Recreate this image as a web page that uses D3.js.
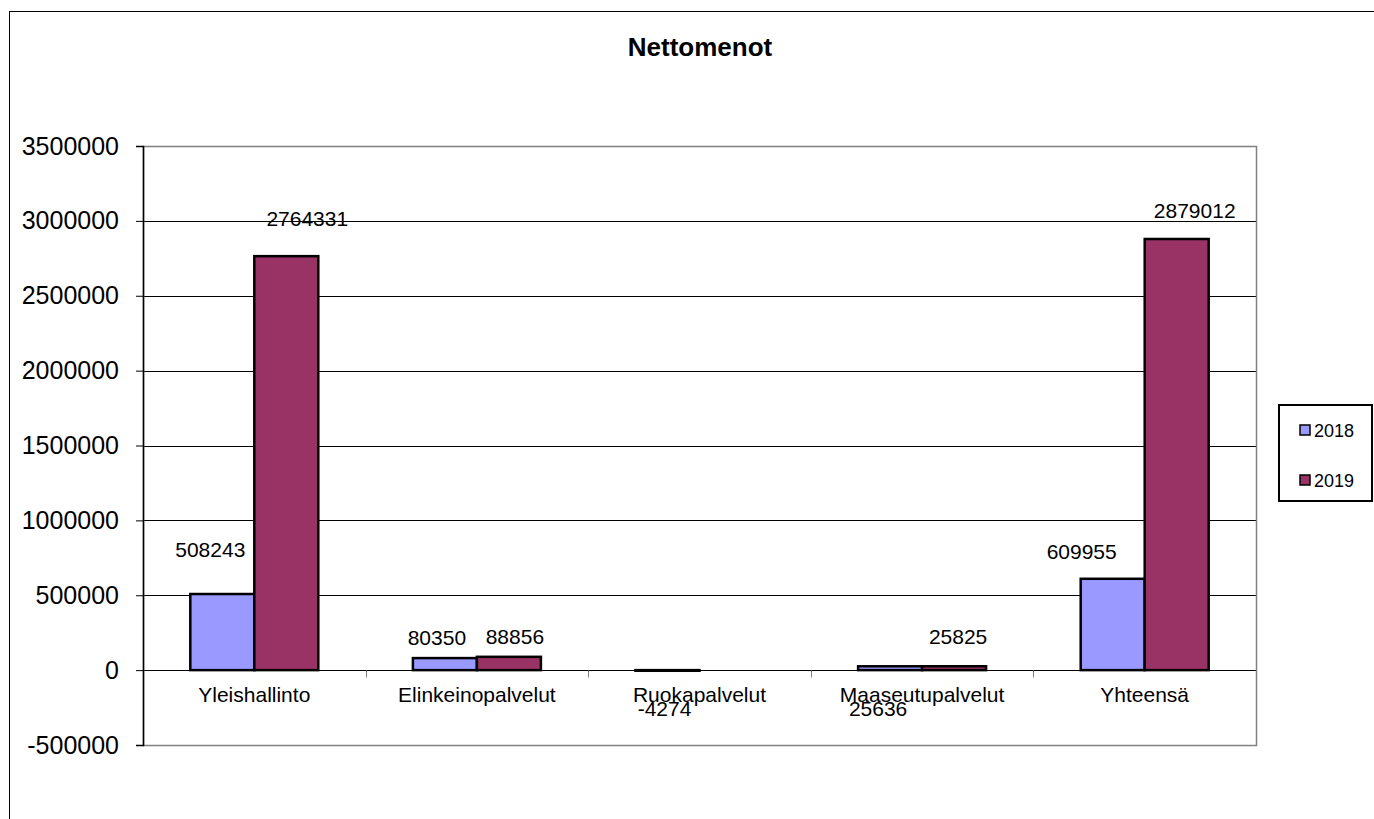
<!DOCTYPE html>
<html>
<head>
<meta charset="utf-8">
<script src="https://cdn.jsdelivr.net/npm/d3@7"></script>
<style>
	body { margin: 0; background: #fff; }
	svg text { font-family: "Liberation Sans", Arial, sans-serif; fill: #000; }
</style>
</head>
<body>
<div id="chart"></div>
<script>
var categories = ["Yleishallinto", "Elinkeinopalvelut", "Ruokapalvelut", "Maaseutupalvelut", "Yhteensä"];
var seriesNames = ["2018", "2019"];
var values2018 = [508243, 80350, -4274, 25636, 609955];
var values2019 = [2764331, 88856, null, 25825, 2879012];
var yTicks = [-500000, 0, 500000, 1000000, 1500000, 2000000, 2500000, 3000000, 3500000];
var colors = ["#9999FF", "#993366"];

var series = [values2018, values2019];

//Label nudges (px) relative to the default spot above the bar, as Excel left them
var labelNudge = [
	[[-12, -17], [-8, 7], [-3, 0], [-12, 0], [-31, 0]],
	[[21, -10], [6, 7], [0, 0], [4, -2], [18, -1]]
];

createChart();

function createChart() {

	///////////////////////////////////////////////////////////////////////////
	/////////////////////////////// Set-up SVG ////////////////////////////////
	///////////////////////////////////////////////////////////////////////////

	var W = 1374, H = 819;
	var plot = { left: 143, top: 146, right: 1256, bottom: 745 };

	var svg = d3.select("#chart")
		.append("svg")
		.attr("width", W)
		.attr("height", H);

	//Outer chart frame (runs off the picture on the right and bottom)
	svg.append("rect")
		.attr("x", 9.5).attr("y", 11.5)
		.attr("width", W + 20).attr("height", H + 20)
		.style("fill", "none")
		.style("stroke", "#000")
		.style("stroke-width", 1);

	var x = d3.scaleBand()
		.domain(categories)
		.range([plot.left, plot.right])
		.paddingInner(0)
		.paddingOuter(0);

	var barW = x.bandwidth() * 0.2875;

	var y = d3.scaleLinear()
		.domain([d3.min(yTicks), d3.max(yTicks)])
		.range([plot.bottom, plot.top]);

	///////////////////////////////////////////////////////////////////////////
	////////////////////////////// Grid and axes //////////////////////////////
	///////////////////////////////////////////////////////////////////////////

	svg.append("g")
		.selectAll("line")
		.data(yTicks.filter(function(t) { return t !== d3.min(yTicks) && t !== d3.max(yTicks); }))
		.enter().append("line")
		.attr("x1", plot.left).attr("x2", plot.right)
		.attr("y1", function(d) { return Math.round(y(d)) + 0.5; })
		.attr("y2", function(d) { return Math.round(y(d)) + 0.5; })
		.style("stroke", "#000")
		.style("stroke-width", 1);

	//Plot border
	svg.append("rect")
		.attr("x", plot.left + 0.5).attr("y", plot.top + 0.5)
		.attr("width", plot.right - plot.left).attr("height", plot.bottom - plot.top)
		.style("fill", "none")
		.style("stroke", "#808080")
		.style("stroke-width", 1.5);

	//plain hyphen for negatives, like the original
	var yAxis = svg.append("g")
		.attr("transform", "translate(" + plot.left + ",0)")
		.call(d3.axisLeft(y).tickValues(yTicks).tickSize(7).tickPadding(17).tickFormat(function(d) { return String(d); }));
	yAxis.select(".domain").style("stroke", "#000").style("stroke-width", 1.5);
	yAxis.selectAll(".tick line").style("stroke", "#000");
	yAxis.selectAll(".tick text")
		.style("font-size", "25px")
		.style("font-family", "'Liberation Sans', Arial, sans-serif");

	//Category ticks on the zero line
	var zeroY = Math.round(y(0)) + 0.5;
	svg.append("g")
		.selectAll("line")
		.data(categories.slice(1))
		.enter().append("line")
		.attr("x1", function(d) { return Math.round(x(d)) + 0.5; })
		.attr("x2", function(d) { return Math.round(x(d)) + 0.5; })
		.attr("y1", zeroY).attr("y2", zeroY + 7)
		.style("stroke", "#808080");

	svg.append("g")
		.selectAll("text")
		.data(categories)
		.enter().append("text")
		.attr("x", function(d) { return x(d) + x.bandwidth() / 2; })
		.attr("y", zeroY + 31)
		.attr("text-anchor", "middle")
		.style("font-size", "21px")
		.text(function(d) { return d; });

	///////////////////////////////////////////////////////////////////////////
	///////////////////////////////// Bars ////////////////////////////////////
	///////////////////////////////////////////////////////////////////////////

	series.forEach(function(vals, s) {
		var g = svg.append("g");
		var items = vals.map(function(v, i) { return { v: v, i: i }; })
			.filter(function(d) { return d.v !== null; });

		g.selectAll("rect")
			.data(items)
			.enter().append("rect")
			.attr("x", function(d) { return x(categories[d.i]) + x.bandwidth() / 2 - barW + s * barW; })
			.attr("y", function(d) { return Math.min(y(d.v), y(0)); })
			.attr("width", barW)
			.attr("height", function(d) { return Math.abs(y(d.v) - y(0)); })
			.style("fill", colors[s])
			.style("stroke", "#000")
			.style("stroke-width", 2.5);

		g.selectAll("text")
			.data(items)
			.enter().append("text")
			.attr("x", function(d) {
				return x(categories[d.i]) + x.bandwidth() / 2 - barW / 2 + s * barW + labelNudge[s][d.i][0];
			})
			.attr("y", function(d) {
				//negative value and the small 2018 Maaseutupalvelut label sit under the axis labels
				if (d.v < 0 || (s === 0 && d.i === 3)) return zeroY + 45 + labelNudge[s][d.i][1];
				return y(d.v) - 20 + labelNudge[s][d.i][1];
			})
			.attr("text-anchor", "middle")
			.style("font-size", "21px")
			.text(function(d) { return d.v; });
	});

	///////////////////////////////////////////////////////////////////////////
	///////////////////////////// Title & legend //////////////////////////////
	///////////////////////////////////////////////////////////////////////////

	svg.append("text")
		.attr("x", 700)
		.attr("y", 56)
		.attr("text-anchor", "middle")
		.style("font-size", "26px")
		.style("font-weight", "bold")
		.text("Nettomenot");

	var legend = svg.append("g").attr("transform", "translate(1279,405)");
	legend.append("rect")
		.attr("width", 93).attr("height", 96)
		.style("fill", "#fff")
		.style("stroke", "#000")
		.style("stroke-width", 2);

	var li = legend.selectAll(".li")
		.data(seriesNames)
		.enter().append("g")
		.attr("transform", function(d, i) { return "translate(0," + (i * 50) + ")"; });
	li.append("rect")
		.attr("x", 21).attr("y", 20)
		.attr("width", 10).attr("height", 10)
		.style("fill", function(d, i) { return colors[i]; })
		.style("stroke", "#000")
		.style("stroke-width", 1.5);
	li.append("text")
		.attr("x", 35).attr("y", 32)
		.style("font-size", "18px")
		.text(function(d) { return d; });

}//createChart
</script>
</body>
</html>
